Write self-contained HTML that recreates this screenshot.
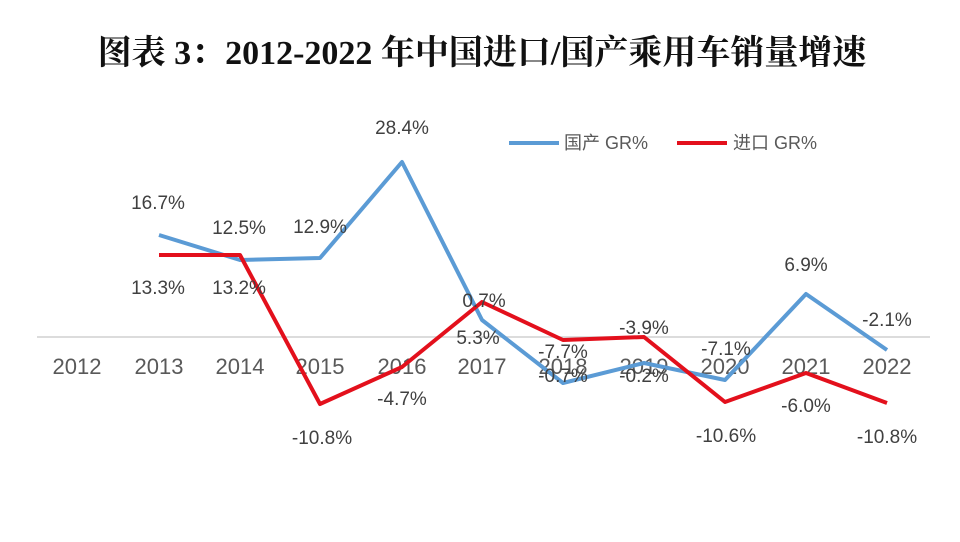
<!DOCTYPE html>
<html><head><meta charset="utf-8"><style>
html,body{margin:0;padding:0;background:#fff;width:960px;height:542px;overflow:hidden}
</style></head><body>
<svg width="960" height="542" xmlns="http://www.w3.org/2000/svg">
<text x="482" y="64" text-anchor="middle" font-family="'Liberation Serif','Noto Serif CJK SC',serif" font-weight="bold" font-size="34" fill="#111">图表 3：2012-2022 年中国进口/国产乘用车销量增速</text>
<line x1="37" y1="337" x2="930" y2="337" stroke="#d0d0d0" stroke-width="1.5"/>
<g font-family="'Liberation Sans','Noto Sans CJK SC',sans-serif" font-size="22" fill="#595959" text-anchor="middle">
<text x="77" y="374">2012</text><text x="159" y="374">2013</text><text x="240" y="374">2014</text><text x="320" y="374">2015</text><text x="402" y="374">2016</text><text x="482" y="374">2017</text><text x="563" y="374">2018</text><text x="644" y="374">2019</text><text x="725" y="374">2020</text><text x="806" y="374">2021</text><text x="887" y="374">2022</text>
</g>
<polyline fill="none" stroke="#5b9bd5" stroke-width="4" stroke-linejoin="round" points="159,235 240,260 320,258 402,162 482,320 563,383 644,363 725,380 806,294 887,350"/>
<polyline fill="none" stroke="#e3101c" stroke-width="4" stroke-linejoin="round" points="159,255 240,255 320,404 402,367 482,302 563,340 644,337 725,402 806,373 887,403"/>
<g font-family="'Liberation Sans','Noto Sans CJK SC',sans-serif" font-size="19" fill="#404040" text-anchor="middle">
<text x="158" y="209">16.7%</text><text x="239" y="234">12.5%</text><text x="320" y="233">12.9%</text><text x="402" y="134">28.4%</text>
<text x="158" y="294">13.3%</text><text x="239" y="294">13.2%</text><text x="322" y="444">-10.8%</text><text x="402" y="405">-4.7%</text>
<text x="484" y="307">0.7%</text><text x="478" y="344">5.3%</text>
<text x="563" y="358">-7.7%</text><text x="563" y="382">-0.7%</text>
<text x="644" y="334">-3.9%</text><text x="644" y="382">-0.2%</text>
<text x="726" y="355">-7.1%</text><text x="726" y="442">-10.6%</text>
<text x="806" y="271">6.9%</text><text x="806" y="412">-6.0%</text>
<text x="887" y="326">-2.1%</text><text x="887" y="443">-10.8%</text>
</g>
<line x1="509" y1="143" x2="559" y2="143" stroke="#5b9bd5" stroke-width="4"/>
<line x1="677" y1="143" x2="727" y2="143" stroke="#e3101c" stroke-width="4"/>
<g font-family="'Liberation Sans','Noto Sans CJK SC',sans-serif" font-size="18" fill="#595959">
<text x="564" y="149">国产 GR%</text><text x="733" y="149">进口 GR%</text>
</g>
</svg>
</body></html>
